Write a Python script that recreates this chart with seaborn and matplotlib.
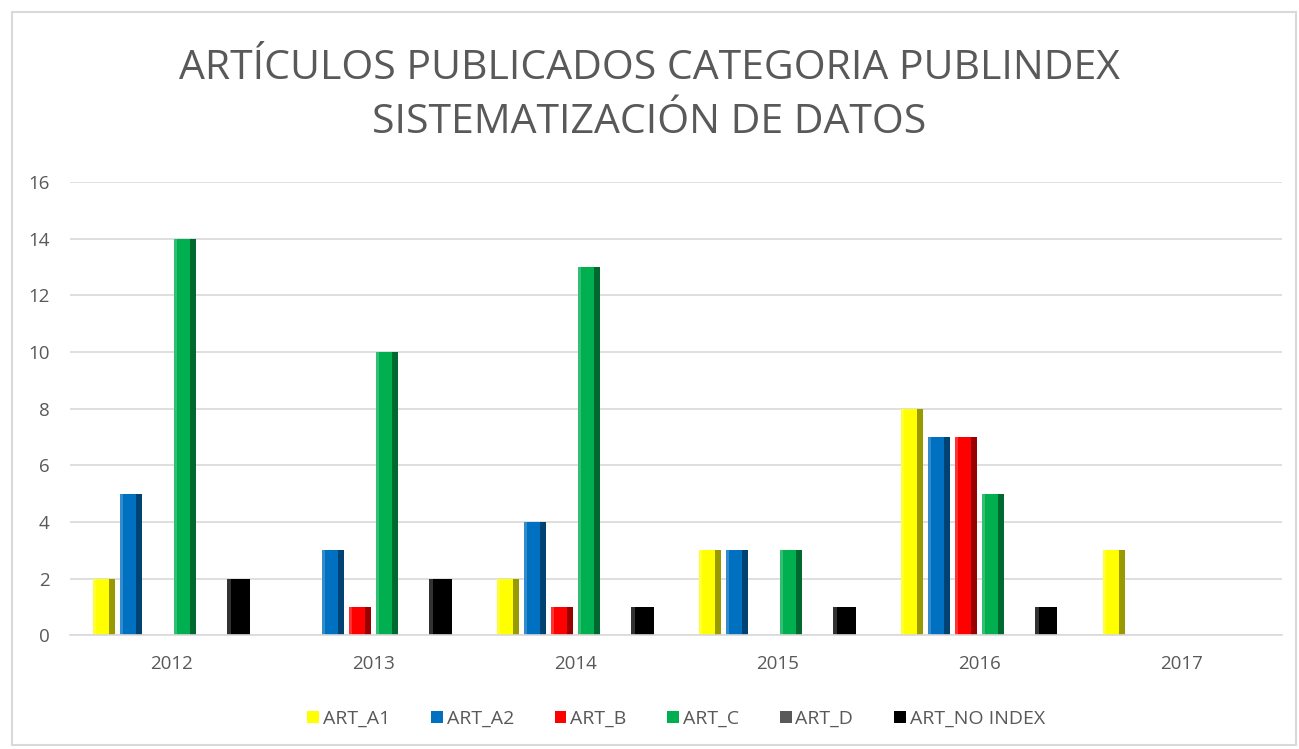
import pandas as pd
import matplotlib.pyplot as plt
import seaborn as sns
from matplotlib.patches import Rectangle

# Data
years = ["2012", "2013", "2014", "2015", "2016", "2017"]
series = ["ART_A1", "ART_A2", "ART_B", "ART_C", "ART_D", "ART_NO INDEX"]
art_a1 = [2, 0, 2, 3, 8, 3]
art_a2 = [5, 3, 4, 3, 7, 0]
art_b = [0, 1, 1, 0, 7, 0]
art_c = [14, 10, 13, 3, 5, 0]
art_d = [0, 0, 0, 0, 0, 0]
art_no_index = [2, 2, 1, 1, 1, 0]
colors = ["#FFFF00", "#0070C0", "#FF0000", "#00B050", "#595959", "#000000"]

values = [art_a1, art_a2, art_b, art_c, art_d, art_no_index]
rows = []
for name, vals in zip(series, values):
    for y, v in zip(years, vals):
        rows.append({"Year": y, "Serie": name, "Valor": v})
df = pd.DataFrame(rows)

sns.set_style("white")
plt.rcParams["font.family"] = ["Open Sans", "DejaVu Sans"]
text_color = "#595959"

fig = plt.figure(figsize=(12.99, 7.49), dpi=100)
ax = fig.add_axes([0.054, 0.152, 0.933, 0.605])

sns.barplot(data=df, x="Year", y="Valor", hue="Serie", hue_order=series,
            palette=colors, saturation=1, width=0.8, gap=0.18, ax=ax,
            edgecolor="none", linewidth=0)

# darker right side / lighter left side to hint the bevel look
for bar in list(ax.patches):
    h = bar.get_height()
    if h <= 0:
        continue
    x, w = bar.get_x(), bar.get_width()
    z = bar.get_zorder() + 0.1
    ax.add_patch(Rectangle((x + w * 0.75, 0), w * 0.25, h, color="black",
                           alpha=0.4, lw=0, zorder=z))
    ax.add_patch(Rectangle((x, 0), w * 0.15, h, color="white",
                           alpha=0.2, lw=0, zorder=z))

ax.set_ylim(0, 16)
ax.set_yticks(range(0, 17, 2))
ax.set_xlim(-0.5, 5.5)
ax.yaxis.grid(True, color="#D9D9D9", linewidth=1.2)
ax.set_axisbelow(True)
for s in ["top", "right", "left"]:
    ax.spines[s].set_visible(False)
ax.spines["bottom"].set_color("#D9D9D9")
ax.spines["bottom"].set_linewidth(1.2)
ax.tick_params(axis="both", length=0, labelsize=13.5, colors=text_color)
ax.tick_params(axis="y", pad=15)
ax.tick_params(axis="x", pad=14)
ax.set_xlabel("")
ax.set_ylabel("")

fig.suptitle("ARTÍCULOS PUBLICADOS CATEGORIA PUBLINDEX\nSISTEMATIZACIÓN DE DATOS",
             y=0.935, fontsize=29.5, color=text_color, linespacing=1.45)

handles, labels = ax.get_legend_handles_labels()
ax.legend(handles, labels, loc="center", bbox_to_anchor=(0.5, -0.185),
          ncol=6, frameon=False, fontsize=14, labelcolor=text_color,
          handlelength=0.6, handleheight=0.6, handletextpad=0.2,
          columnspacing=2.1)

# outer chart frame
fig.patches.append(Rectangle((0.009, 0.006), 0.989, 0.978, transform=fig.transFigure,
                             fill=False, edgecolor="#D9D9D9", linewidth=1.5))

fig.savefig("out.png", dpi=100)
